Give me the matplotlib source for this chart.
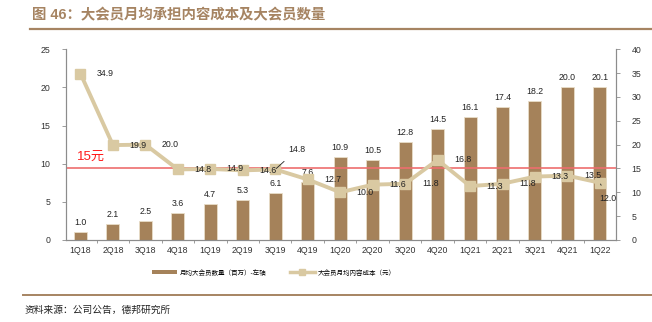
import matplotlib
matplotlib.use("Agg")
import matplotlib.pyplot as plt
from matplotlib.lines import Line2D
from matplotlib.patches import Patch

plt.rcParams['font.family'] = ['Liberation Sans', 'Noto Sans CJK SC', 'DejaVu Sans']

quarters = ['1Q18', '2Q18', '3Q18', '4Q18', '1Q19', '2Q19', '3Q19', '4Q19', '1Q20',
            '2Q20', '3Q20', '4Q20', '1Q21', '2Q21', '3Q21', '4Q21', '1Q22']
members = [1.0, 2.1, 2.5, 3.6, 4.7, 5.3, 6.1, 7.6, 10.9,
           10.5, 12.8, 14.5, 16.1, 17.4, 18.2, 20.0, 20.1]
content_cost = [34.9, 19.9, 20.0, 14.8, 14.9, 14.6, 14.8, 12.7, 10.0,
                11.6, 11.8, 16.8, 11.3, 11.8, 13.3, 13.5, 12.0]
reference_cost = 15

title_text = '图 46：大会员月均承担内容成本及大会员数量'
source_text = '资料来源：公司公告，德邦研究所'
bar_label = '月均大会员数量（百万）-左轴'
line_label = '大会员月均内容成本（元）'
ref_label = '15元'

BAR_C = '#A5825A'
LINE_C = '#D9C9A2'
BROWN = '#A68462'
AXIS_C = '#8C8C8C'

fig = plt.figure(figsize=(6.52, 3.22), dpi=100)
ax = fig.add_axes([0.101, 0.2547, 0.844, 0.5923])
ax2 = ax.twinx()

x = list(range(len(quarters)))
ax.bar(x, members, width=0.4, color=BAR_C, edgecolor='#E8DDC8', linewidth=0.6, zorder=2)
for xi, v in zip(x, members):
    ax.annotate(f'{v:.1f}', (xi, v), xytext=(0, 5), textcoords='offset pixels',
                ha='center', va='bottom', fontsize=6.3, color='#222222')

ax.set_xlim(-0.45, 16.5)
ax.set_ylim(0, 25)
ax.set_yticks(range(0, 26, 5))
ax2.set_ylim(0, 40)
ax2.set_yticks(range(0, 41, 5))

ax2.axhline(reference_cost, color='#EE6E6E', lw=1.2, zorder=1)
ax2.plot(x, content_cost, color=LINE_C, lw=2.8, marker='s', markersize=7.5,
         markerfacecolor=LINE_C, markeredgecolor=LINE_C, zorder=3)

# value labels for the cost line, most sit to the right of each marker
offsets = {i: (25, 0) for i in x}
offsets[6] = (22, 20)
offsets[16] = (8, -16)
for i, v in enumerate(content_cost):
    dx, dy = offsets[i]
    arrow = None
    if i in (6, 16):
        arrow = dict(arrowstyle='-', color='#222222', lw=0.6, shrinkA=5, shrinkB=1)
    ax2.annotate(f'{v:.1f}', (i, v), xytext=(dx, dy), textcoords='offset pixels',
                 ha='center', va='center', fontsize=6.3, color='#222222',
                 arrowprops=arrow, zorder=4)

ax2.text(0.02, reference_cost + 1.2, ref_label, transform=ax2.get_yaxis_transform(),
         color='#FF1A1A', fontsize=9.5, ha='left', va='bottom')

for a in (ax, ax2):
    a.spines['top'].set_visible(False)
    for s in ('left', 'right', 'bottom'):
        a.spines[s].set_color(AXIS_C)
        a.spines[s].set_linewidth(0.8)
    a.tick_params(axis='y', labelsize=6.3, colors='#333333', length=3, width=0.6,
                  color=AXIS_C, pad=8)

ax.set_xticks(x)
ax.set_xticklabels(quarters)
ax.tick_params(axis='x', which='major', length=0, labelsize=6.3, colors='#333333', pad=4)
ax.set_xticks([i + 0.5 for i in x[:-1]], minor=True)
ax.tick_params(axis='x', which='minor', length=2.5, width=0.6, color=AXIS_C)

handles = [Patch(facecolor=BAR_C, edgecolor='none'),
           Line2D([0], [0], color=LINE_C, lw=2.5, marker='s', markersize=5,
                  markerfacecolor=LINE_C, markeredgecolor=LINE_C)]
fig.legend(handles, [bar_label, line_label], loc='center', bbox_to_anchor=(0.42, 0.152),
           ncol=2, frameon=False, fontsize=4.7, handlelength=3.8, handleheight=0.5,
           columnspacing=3.6, handletextpad=0.5)

fig.text(32 / 652, 1 - 15 / 322, title_text, fontsize=10.4, fontweight='bold',
         color=BROWN, ha='left', va='center')
fig.add_artist(Line2D([30 / 652, 1.0], [1 - 29 / 322] * 2, color=BROWN, lw=1.6))
fig.add_artist(Line2D([23 / 652, 1.0], [1 - 295 / 322] * 2, color=BROWN, lw=1.4))
fig.text(25 / 652, 1 - 310 / 322, source_text, fontsize=7, color='#222222',
         ha='left', va='center')

fig.savefig('out.png', dpi=100)
